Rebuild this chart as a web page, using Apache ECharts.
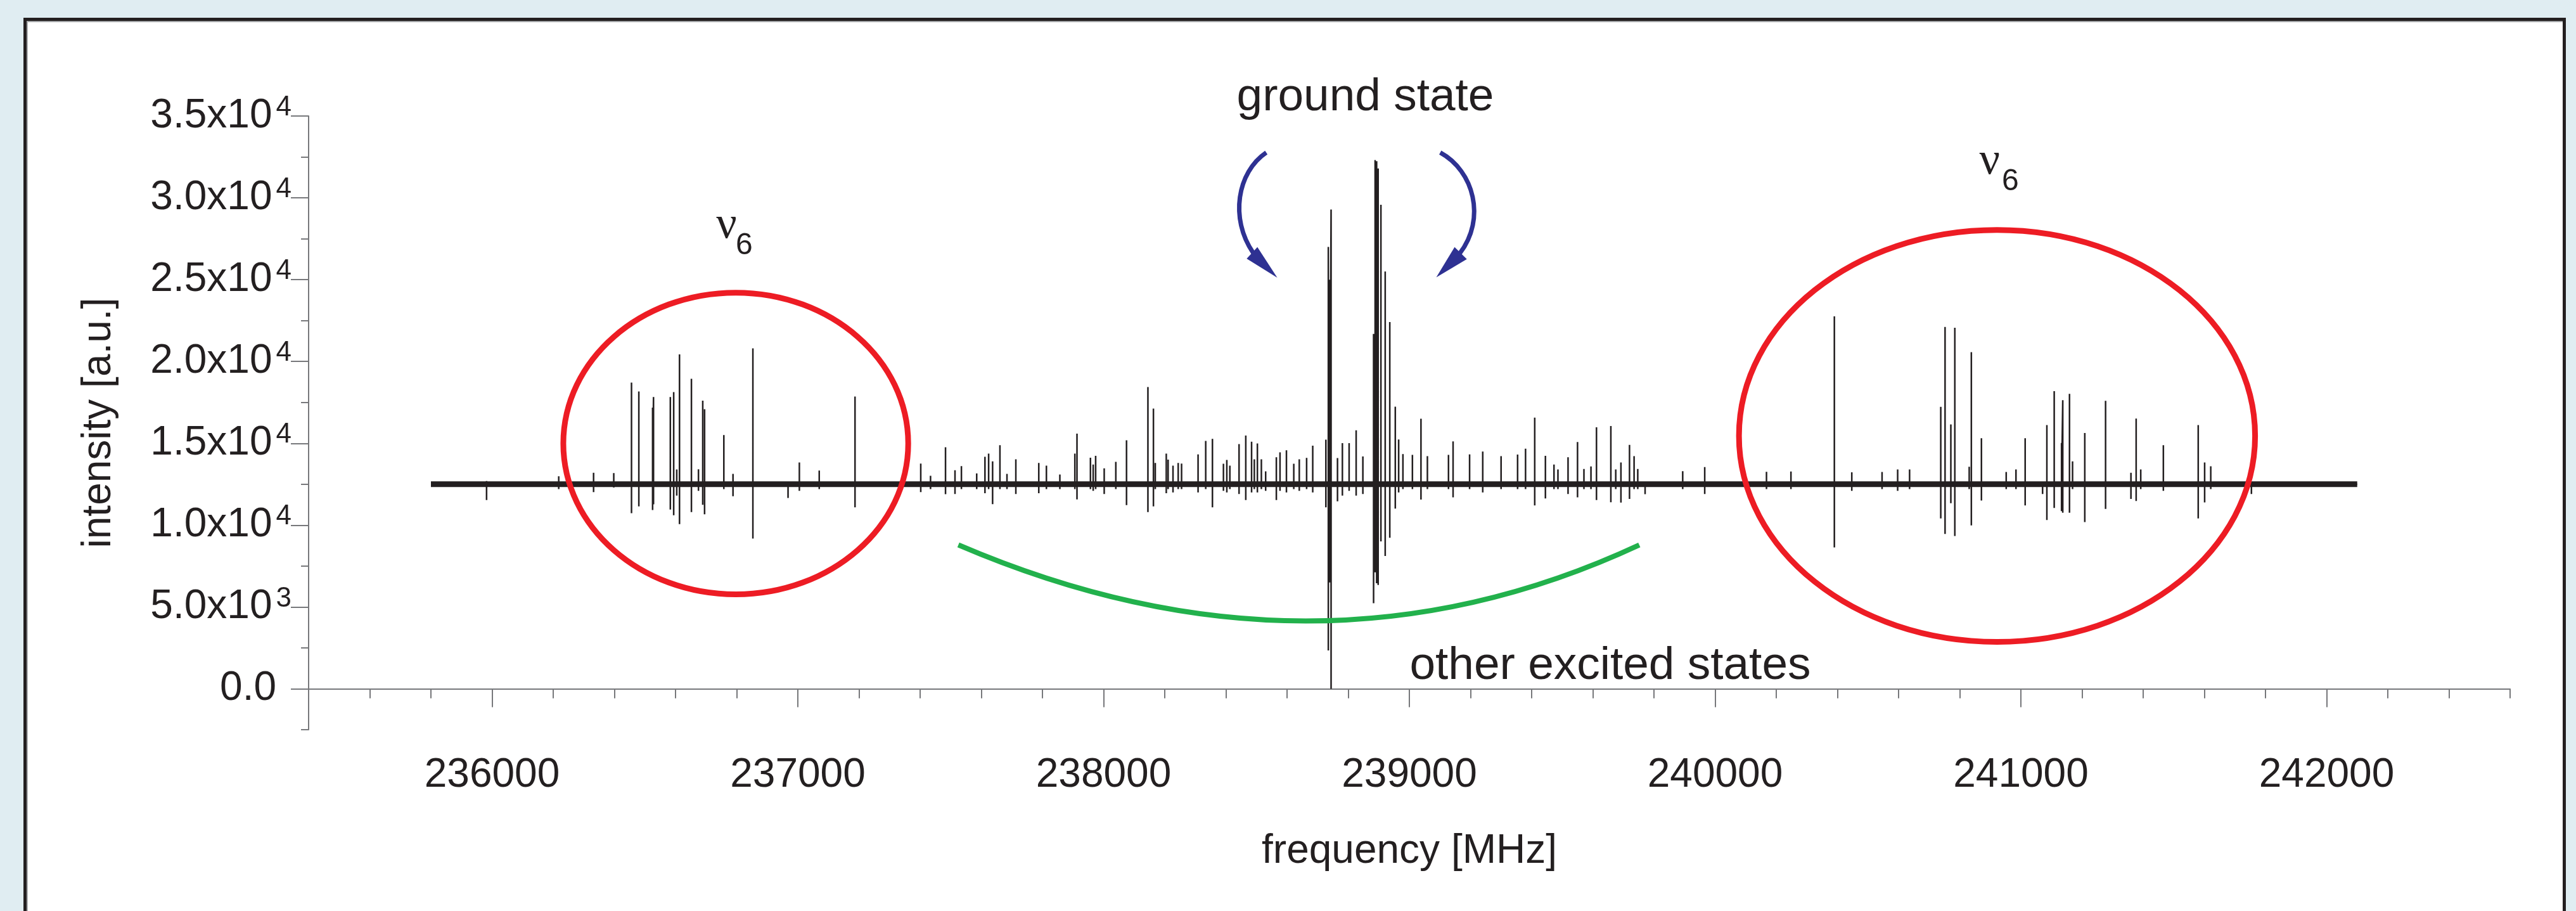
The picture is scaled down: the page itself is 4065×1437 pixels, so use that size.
<!DOCTYPE html>
<html><head><meta charset="utf-8">
<script src="https://cdn.jsdelivr.net/npm/echarts@6/dist/echarts.min.js"></script>
<style>html,body{margin:0;padding:0;background:#e0edf2;}#c{width:4065px;height:1437px;}</style>
</head><body><div id="c"></div>
<script>
// ---------- data ----------
const xMin = 235400, xMax = 242600;
const yMin = -2500, yMax = 35000;
const xMajorTicks = [236000, 237000, 238000, 239000, 240000, 241000, 242000];
const xMinorTicks = [235400, 235600, 235800, 236200, 236400, 236600, 236800, 237200, 237400, 237600, 237800,
  238200, 238400, 238600, 238800, 239200, 239400, 239600, 239800, 240200, 240400, 240600, 240800,
  241200, 241400, 241600, 241800, 242200, 242400, 242600];
const yMajorTicks = [0, 5000, 10000, 15000, 20000, 25000, 30000, 35000];
const yMinorTicks = [-2500, 2500, 7500, 12500, 17500, 22500, 27500, 32500];

const baseline = 12500;
const specStart = 235800, specEnd = 242100;

const peakFreq = [235982, 236218, 236332, 236398, 236456, 236480, 236525, 236528, 236583, 236594, 236604, 236613, 236652, 236675, 236689, 236695, 236758, 236788, 236853, 236968, 237005, 237070, 237187,
  237402, 237434, 237483, 237514, 237535, 237585, 237612, 237624, 237637, 237661, 237684, 237713, 237788, 237813, 237857, 237906, 237913, 237957, 237966, 237974, 238002, 238040, 238075, 238145, 238163, 238169, 238205, 238211, 238227, 238244, 238255, 238309, 238334, 238356, 238392, 238403, 238413, 238443, 238465, 238484, 238493, 238503, 238516, 238530, 238565, 238577, 238598, 238622, 238640, 238664, 238684, 238727,
  238735, 238740, 238744, 238765, 238781, 238803, 238826, 238848, 238883, 238888, 238893, 238898, 238907, 238921, 238936, 238954, 238965, 238979, 239010, 239038, 239059, 239128, 239143, 239197, 239240, 239300, 239354, 239380, 239410, 239445, 239473, 239486, 239519, 239550, 239571, 239594, 239612, 239659, 239675, 239692, 239720, 239735, 239747, 239771, 239894, 239966,
  240168, 240248, 240390, 240447, 240546, 240597, 240636, 240738, 240752, 240771, 240784, 240831, 240838, 240871, 240952, 240984, 241014, 241071, 241085, 241109, 241133, 241137, 241159, 241169, 241209, 241277, 241360, 241377, 241392, 241466, 241580, 241601, 241621, 241754];
const peakMax = [12700, 12990, 13200, 13180, 18706, 18164, 17184, 17828, 17828, 18125, 13400, 20437, 18939, 13412, 17610, 17080, 15504, 13130, 20798, 12600, 13826, 13335, 17854,
  13761, 13013, 14756, 13350, 13606, 13156, 14175, 14369, 13892, 14885, 13130, 14020, 13800, 13633, 13090, 14369, 15596, 14124, 13700, 14240, 13466, 13865, 15182, 18435, 17118, 13800, 14369, 14000, 13633, 13800, 13760, 14318, 15143, 15272, 13750, 13980, 13633, 14950, 15480, 15093, 14020, 14988, 14020, 13290, 14148, 14446, 14574, 13750, 14020, 14110, 14860, 15221,
  27000, 25000, 29283, 14100, 15010, 15010, 15790, 14200, 21680, 32310, 32240, 31797, 29574, 25503, 22413, 17235, 15232, 14340, 14290, 16499, 14220, 14290, 15120, 14320, 14500, 14220, 14310, 14667, 16569, 14240, 13700, 13400, 14148, 15078, 13430, 13590, 15983, 16061, 13400, 13826, 14900, 14214, 13430, 12600, 13300, 13545,
  13260, 13280, 22760, 13230, 13250, 13400, 13400, 17224, 22114, 16150, 22065, 13570, 20565, 15310, 13250, 13400, 15310, 12600, 16112, 18190, 15018, 17635, 18022, 13892, 15635, 17596, 13200, 16511, 13400, 14885, 16112, 13826, 13600, 12600];
const peakMin = [11530, 12200, 12020, 12300, 10728, 11142, 10921, 11270, 10949, 10600, 11800, 10058, 10794, 12100, 11243, 10663, 12200, 11762, 9179, 11658, 12100, 12200, 11088,
  12018, 12200, 11890, 11900, 12200, 12200, 11950, 12200, 11282, 12200, 12200, 11900, 11950, 12200, 12200, 12200, 11569, 12200, 12100, 12200, 11900, 12200, 11220, 10794, 11142, 12200, 11950, 12200, 12000, 12200, 12200, 12000, 12200, 11088, 12100, 12000, 12200, 11900, 11530, 12000, 12200, 12000, 12200, 12100, 11530, 12100, 12000, 12200, 12100, 12200, 12000, 11088,
  2340, 6500, 0, 11460, 11800, 12100, 11800, 11900, 5228, 7120, 6452, 6340, 9008, 8117, 9229, 11007, 12000, 12200, 12200, 11565, 12200, 12200, 11700, 12200, 12000, 12200, 12200, 12200, 11200, 11630, 12200, 12200, 11900, 11696, 12200, 12200, 11530, 11400, 12200, 11375, 11600, 12200, 12200, 11890, 12200, 11900,
  12200, 12200, 8637, 12100, 12200, 12100, 12200, 10407, 9462, 11337, 9334, 12200, 9980, 11500, 12200, 12200, 11205, 11900, 10314, 11050, 10856, 10755, 10755, 12200, 10186, 10988, 11600, 11476, 12200, 12100, 10407, 11386, 12200, 11900];

// ---------- build series ----------
const spikeData = [[specStart, baseline]];
peakFreq.forEach((f, i) => {
  spikeData.push([f, baseline], [f, peakMax[i]], [f, peakMin[i]], [f, baseline]);
});
spikeData.push([specEnd, baseline]);
const baseData = [[specStart, baseline], [specEnd, baseline]];

const INK = '#231f20', AXIS = '#77787b', FONT = '"Liberation Sans", Arial, sans-serif';

function yFmt(v) {
  if (v === 0) return '{z|0.0}';
  const e = Math.floor(Math.log10(v) + 1e-9);
  const m = (v / Math.pow(10, e)).toFixed(1);
  return '{m|' + m + 'x10}{s|' + e + '}';
}

const chart = echarts.init(document.getElementById('c'), null, {renderer: 'canvas'});
chart.setOption({
  backgroundColor: '#e0edf2',
  animation: false,
  grid: {left: 487, right: 104, top: 183, bottom: 286, containLabel: false},
  xAxis: [{
    type: 'value', min: xMin, max: xMax, position: 'bottom',
    axisLine: {show: true, lineStyle: {color: AXIS, width: 2}},
    axisTick: {show: true, customValues: xMajorTicks, length: 29, lineStyle: {color: AXIS, width: 2}},
    axisLabel: {show: true, customValues: xMajorTicks, fontSize: 64, fontFamily: FONT, color: INK, margin: 40,
      formatter: v => String(v)},
    splitLine: {show: false},
    name: 'frequency [MHz]', nameLocation: 'middle', nameGap: 160,
    nameTextStyle: {fontSize: 64, fontFamily: FONT, color: INK}
  }, {
    type: 'value', min: xMin, max: xMax, position: 'bottom', offset: 0,
    axisLine: {show: false},
    axisTick: {show: true, customValues: xMinorTicks, length: 15, lineStyle: {color: AXIS, width: 2}},
    axisLabel: {show: false}, splitLine: {show: false}
  }],
  yAxis: [{
    type: 'value', min: yMin, max: yMax, position: 'left',
    axisLine: {show: true, lineStyle: {color: AXIS, width: 2}},
    axisTick: {show: true, customValues: yMajorTicks, length: 28, lineStyle: {color: AXIS, width: 2}},
    axisLabel: {
      show: true, customValues: yMajorTicks, margin: 27, formatter: yFmt,
      rich: {
        m: {fontSize: 64, fontFamily: FONT, color: INK, lineHeight: 70},
        s: {fontSize: 44, fontFamily: FONT, color: INK, verticalAlign: 'top', lineHeight: 44, padding: [0, 0, 0, 6]},
        z: {fontSize: 64, fontFamily: FONT, color: INK, lineHeight: 70, padding: [0, 24, 0, 0]}
      }
    },
    splitLine: {show: false},
    name: 'intensity [a.u.]', nameLocation: 'middle', nameGap: 299,
    nameTextStyle: {fontSize: 64, fontFamily: FONT, color: INK}
  }, {
    type: 'value', min: yMin, max: yMax, position: 'left', offset: 0,
    axisLine: {show: false},
    axisTick: {show: true, customValues: yMinorTicks, length: 12, lineStyle: {color: AXIS, width: 2}},
    axisLabel: {show: false}, splitLine: {show: false}
  }],
  series: [{
    type: 'line', name: 'base', data: baseData, xAxisIndex: 0, yAxisIndex: 0,
    showSymbol: false, symbol: 'none', lineStyle: {color: INK, width: 9}, z: 2, silent: true
  }, {
    type: 'line', name: 'spectrum', data: spikeData, xAxisIndex: 0, yAxisIndex: 0,
    showSymbol: false, symbol: 'none', sampling: null, lineStyle: {color: INK, width: 2.5}, z: 3, silent: true
  }]
});

// ---------- annotations (in data units) ----------
const P = (f, v) => chart.convertToPixel({seriesIndex: 0}, [f, v]);
function ellipse(cf, cv, rf, rv) {
  const c = P(cf, cv), e = P(cf + rf, cv + rv);
  return {type: 'ellipse', z: 10, silent: true,
    shape: {cx: c[0], cy: c[1], rx: Math.abs(e[0] - c[0]), ry: Math.abs(e[1] - c[1])},
    style: {fill: 'none', stroke: '#ed1c24', lineWidth: 9}};
}
function curve(pts, color, w) {
  const a = pts.map(p => P(p[0], p[1]));
  const shape = {x1: a[0][0], y1: a[0][1], x2: a[a.length - 1][0], y2: a[a.length - 1][1], cpx1: a[1][0], cpy1: a[1][1]};
  if (a.length === 4) { shape.cpx2 = a[2][0]; shape.cpy2 = a[2][1]; }
  return {type: 'bezierCurve', z: 10, silent: true, shape: shape, style: {fill: 'none', stroke: color, lineWidth: w, lineCap: 'butt'}};
}
function head(pts, color) {
  return {type: 'polygon', z: 10, silent: true, shape: {points: pts.map(p => P(p[0], p[1]))}, style: {fill: color}};
}
function label(f, v, text, size, family, align) {
  const p = P(f, v);
  return {type: 'text', z: 11, silent: true, x: p[0], y: p[1],
    style: {text: text, fontSize: size, fontFamily: family, fill: INK, align: align, verticalAlign: 'middle'}};
}
const BLUE = '#2e3192', GREEN = '#22b14c';
const SERIF = '"Liberation Serif", "DejaVu Serif", serif';
chart.setOption({
  graphic: [
    {type: 'rect', z: -10, silent: true, shape: {x: 39.5, y: 30.5, width: 4007, height: 1500},
      style: {fill: '#ffffff', stroke: INK, lineWidth: 5}},
    {type: 'polyline', z: -9, silent: true, shape: {points: [[43, 1437], [43, 34], [4044, 34]]},
      style: {fill: 'none', stroke: '#a7a9ac', lineWidth: 2}},
    ellipse(236797, 14988, 564, 9218),
    ellipse(240922, 15453, 844, 12587),
    curve([[237525, 8792], [238684, -503], [239752, 8792]], GREEN, 8),
    curve([[238532, 32765], [238437, 31565], [238412, 28737], [238489, 26646]], BLUE, 7),
    head([[238468, 26286], [238503, 26995], [238568, 25124]], BLUE),
    curve([[239101, 32765], [239211, 31642], [239252, 28737], [239165, 26607]], BLUE, 7),
    head([[239088, 25136], [239188, 26259], [239148, 26994]], BLUE),
    label(238856, 36135, 'ground state', 73, FONT, 'center'),
    label(239001, 1394, 'other excited states', 73, FONT, 'left'),
    label(236733, 28312, 'ν', 72, SERIF, 'left'),
    label(236797, 27072, '6', 48, FONT, 'left'),
    label(240864, 32223, 'ν', 72, SERIF, 'left'),
    label(240938, 30964, '6', 48, FONT, 'left')
  ]
});
</script></body></html>
